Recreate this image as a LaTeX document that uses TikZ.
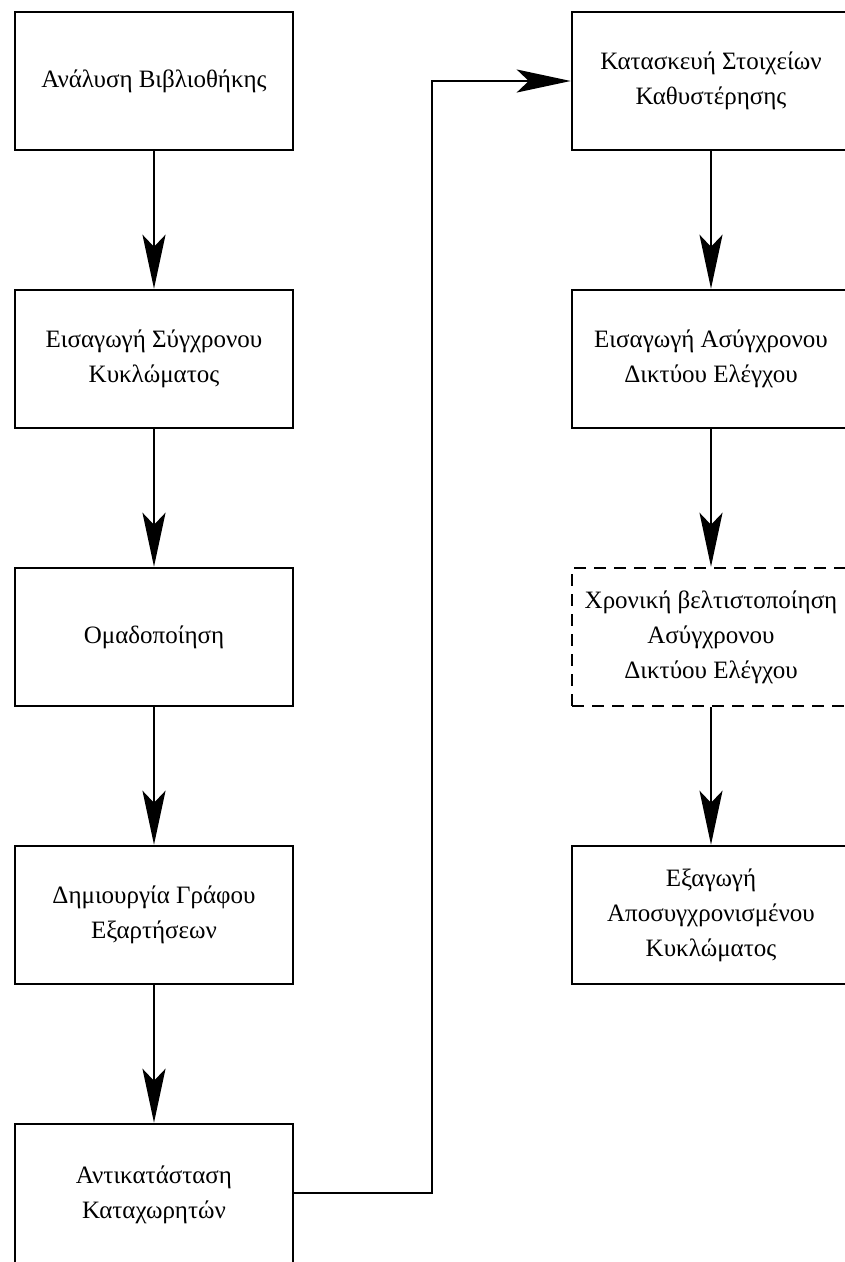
\documentclass[tikz,border=0pt]{standalone}
\usepackage{fontspec}
\setmainfont{Liberation Serif}
\usetikzlibrary{arrows.meta}
\begin{document}
\begin{tikzpicture}[x=1pt,y=-1pt,
  stepbox/.style={draw,line width=2.5pt,minimum width=278pt,minimum height=138pt,
    inner sep=0pt,align=center,font=\fontsize{25}{35}\selectfont},
  optbox/.style={stepbox,dash pattern=on 12pt off 8pt},
  flow/.style={line width=2.5pt,-{Stealth[length=54pt,width=23pt,inset=12pt]}}]
\useasboundingbox (0,0) rectangle (845,1262);
\clip (0,0) rectangle (845,1262);
% left column
\node[stepbox] (l1) at (154,81)   {Ανάλυση Βιβλιοθήκης};
\node[stepbox] (l2) at (154,359)  {Εισαγωγή Σύγχρονου\\Κυκλώματος};
\node[stepbox] (l3) at (154,637)  {Ομαδοποίηση};
\node[stepbox] (l4) at (154,915)  {Δημιουργία Γράφου\\Εξαρτήσεων};
\node[stepbox,minimum height=142pt] (l5) at (154,1195) {Αντικατάσταση\\Καταχωρητών};
% right column
\node[stepbox] (r1) at (711,81)  {Κατασκευή Στοιχείων\\Καθυστέρησης};
\node[stepbox] (r2) at (711,359) {Εισαγωγή Ασύγχρονου\\Δικτύου Ελέγχου};
\node[optbox]  (r3) at (711,637) {Χρονική βελτιστοποίηση\\Ασύγχρονου\\Δικτύου Ελέγχου};
\node[stepbox] (r4) at (711,915) {Εξαγωγή\\Αποσυγχρονισμένου\\Κυκλώματος};
% connectors
\draw[flow] (l1) -- (l2);
\draw[flow] (l2) -- (l3);
\draw[flow] (l3) -- (l4);
\draw[flow] (l4) -- (l5);
\coordinate (turn) at (432,1193);
\draw[flow] (l5.east |- turn) -- (turn) |- (r1.west);
\draw[flow] (r1) -- (r2);
\draw[flow] (r2) -- (r3);
\draw[flow] (r3) -- (r4);
\end{tikzpicture}
\end{document}
